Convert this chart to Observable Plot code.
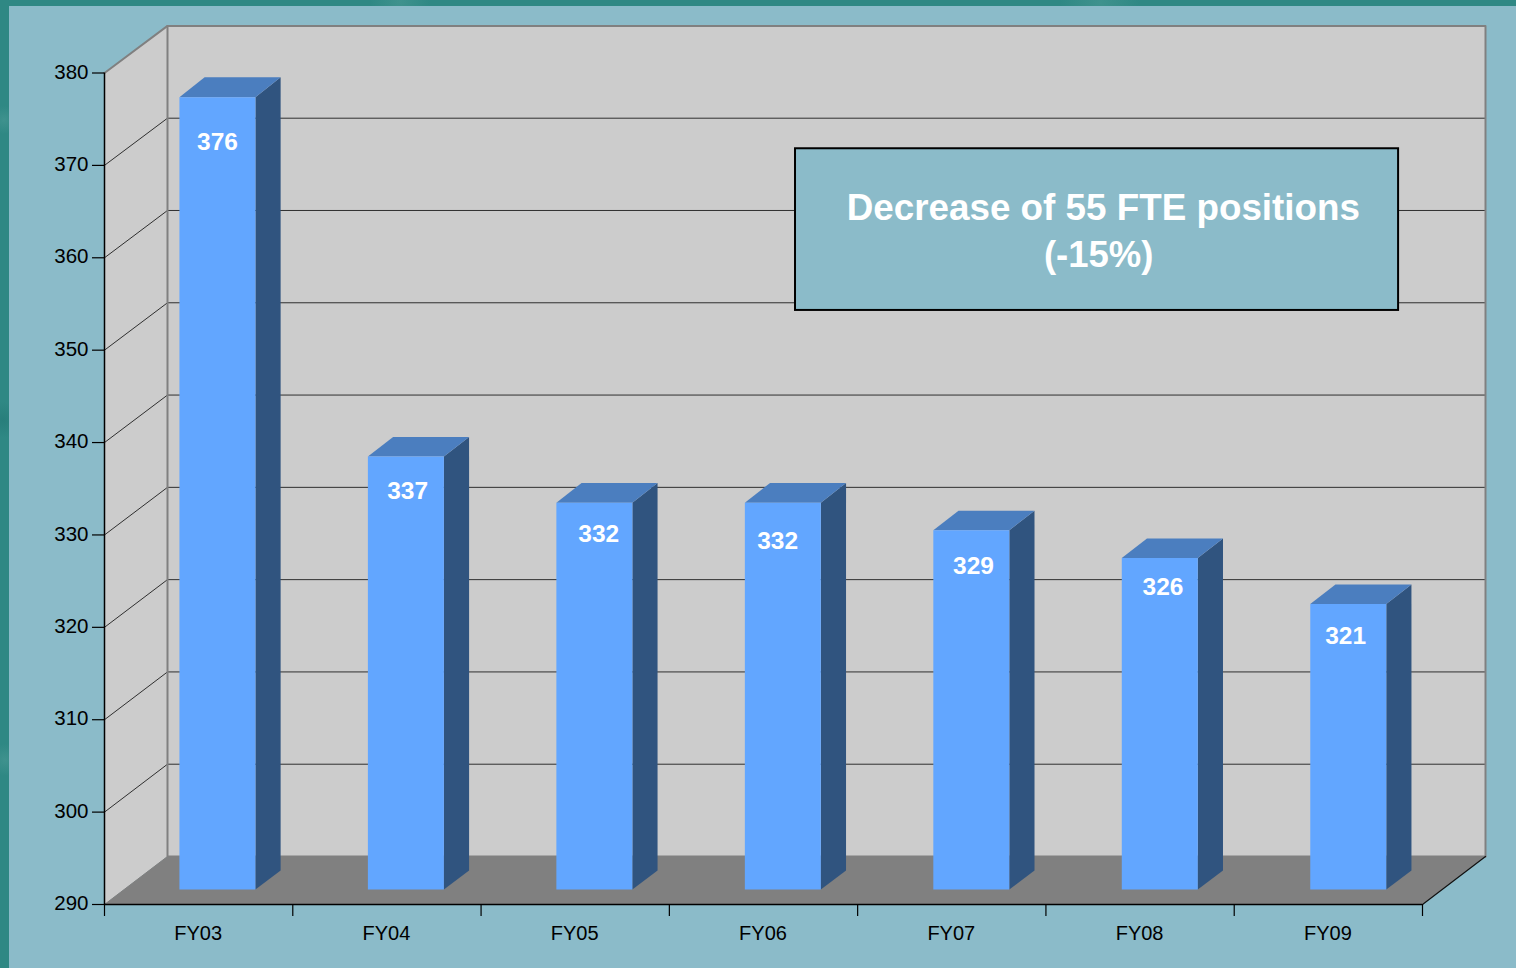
<!DOCTYPE html>
<html>
<head>
<meta charset="utf-8">
<script src="https://cdn.jsdelivr.net/npm/d3@7"></script>
<script src="https://cdn.jsdelivr.net/npm/@observablehq/plot@0.6"></script>
<style>
html,body{margin:0;padding:0;overflow:hidden;width:1516px;height:968px;}
body{position:relative;background-color:#2f8884;
background-image:radial-gradient(circle at 4px 120px,#3f928e 0,transparent 14px),radial-gradient(circle at 3px 420px,#287e7b 0,transparent 18px),radial-gradient(circle at 5px 760px,#3f928e 0,transparent 16px),radial-gradient(circle at 400px 2px,#3f928e 0,transparent 30px),radial-gradient(circle at 1100px 3px,#3f928e 0,transparent 40px);}
#panel{position:absolute;left:9px;top:6px;right:0;bottom:0;background:#8bbbc9;}
#chart{position:absolute;left:0;top:0;}
svg{display:block;}
</style>
</head>
<body>
<div id="panel"></div>
<div id="chart"></div>
<script>
// Data
const categories = ["FY03","FY04","FY05","FY06","FY07","FY08","FY09"];
const values = [376,337,332,332,329,326,321];
const yTicks = [290,300,310,320,330,340,350,360,370,380];
// Hand-placed data label anchors, in axis units
const labelX = [0.60,1.61,2.625,3.575,4.615,5.622,6.592];
const labelY = [372.5,334.7,330.1,329.3,326.6,324.4,319.0];
// Annotation
const noteLines = ["Decrease of 55 FTE positions","(-15%)"];
const noteBox = {x1:3.67,x2:6.873,y1:354.3,y2:371.8};

// 3D shear: a point at depth d (0 front, 1 back wall), expressed in axis units
const slot = 188.29, unit = 9.239;
const sx = (x,d)=> x + d*63/slot;
const sy = (v,d)=> v + (d*48 - (d>0 ? (0.032-0.022*d)*(v-290) : 0))/unit;
const P = (x,v,d)=>({x:sx(x,d),y:sy(v,d)});
const poly = (pts,fill)=>Plot.line(pts,{x:"x",y:"y",fill,stroke:"none",curve:"linear"});
const seg = (pts,stroke,strokeWidth)=>Plot.line(pts,{x:"x",y:"y",stroke,strokeWidth,curve:"linear"});

const d0=0.31, d1=0.71, barW=76/slot;
const C = {wall:"#cccccc",floor:"#808080",edge:"#808080",grid:"#2f2f2f",front:"#62a6ff",top:"#4b7ebf",side:"#30547f"};
const marks = [];

// walls and floor
marks.push(poly([P(0,290,0),P(0,380,0),P(0,380,1),P(0,290,1)],C.wall));
marks.push(poly([P(0,290,1),P(0,380,1),P(7,380,1),P(7,290,1)],C.wall));
marks.push(poly([P(0,290,0),P(7,290,0),P(7,290,1),P(0,290,1)],C.floor));

// gridlines
for(const v of yTicks.filter(t=>t>290&&t<380)){
  marks.push(seg([P(0,v,0),P(0,v,1),P(7,v,1)],C.grid,1));
}
// frame edges
marks.push(seg([P(0,380,0),P(0,380,1),P(7,380,1),P(7,290,1)],C.edge,2));
marks.push(seg([P(0,380,1),P(0,290,1),P(7,290,1)],C.edge,2));
marks.push(seg([P(0,290,0),P(0,290,1)],C.edge,1));
marks.push(seg([P(7,290,0),P(7,290,1)],"#111",1.2));

// bars
values.forEach((v,i)=>{
  const a=(i+0.5)*1.001-0.0045, l=a-barW/2, r=a+barW/2;
  marks.push(poly([P(r,290,d0),P(r,v,d0),P(r,v,d1),P(r,290,d1)],C.side));
  marks.push(poly([P(l,v,d0),P(r,v,d0),P(r,v,d1),P(l,v,d1)],C.top));
  marks.push(poly([P(l,290,d0),P(l,v,d0),P(r,v,d0),P(r,290,d0)],C.front));
});
marks.push(Plot.text(values,{x:(d,i)=>labelX[i],y:(d,i)=>labelY[i],text:d=>String(d),fill:"white",fontSize:24.5,fontWeight:"bold",fontFamily:"Liberation Sans"}));

// annotation box
marks.push(Plot.rect([noteBox],{x1:"x1",x2:"x2",y1:"y1",y2:"y2",fill:"#8bbbc9",stroke:"#000",strokeWidth:2}));
marks.push(Plot.text([noteLines[0]],{x:5.305,y:365.4,text:d=>d,fill:"white",fontSize:36.8,fontWeight:"bold",fontFamily:"Liberation Sans"}));
marks.push(Plot.text([noteLines[1]],{x:5.28,y:360.25,text:d=>d,fill:"white",fontSize:36.5,fontWeight:"bold",fontFamily:"Liberation Sans"}));

// axes
marks.push(Plot.ruleX([0],{y1:290,y2:380,stroke:"#000",strokeWidth:1.5}));
marks.push(Plot.ruleY([290],{x1:0,x2:7,stroke:"#000",strokeWidth:1.5}));
marks.push(Plot.axisY({ticks:yTicks,tickSize:12,tickFormat:()=>"",anchor:"left",stroke:"#000",strokeWidth:1.2}));
marks.push(Plot.axisY({ticks:yTicks,tickSize:0,tickPadding:16,tickFormat:d=>String(d),anchor:"left",fontSize:20.5,fill:"#000",dy:-1,fontFamily:"Liberation Sans"}));
marks.push(Plot.axisX({ticks:d3.range(0,8),tickSize:12,tickFormat:()=>"",anchor:"bottom",stroke:"#000",strokeWidth:1.2}));
marks.push(Plot.axisX({ticks:categories.map((c,i)=>i+0.5),tickSize:0,tickPadding:21,tickFormat:d=>categories[d-0.5],anchor:"bottom",fontSize:20,fill:"#000",fontFamily:"Liberation Sans",dx:-0.5}));

const chart = Plot.plot({
  width:1516,height:968,
  marginLeft:104,marginRight:94,marginTop:72.5,marginBottom:64,
  style:{background:"transparent",fontFamily:"Liberation Sans"},
  x:{type:"linear",domain:[0,7],label:null},
  y:{type:"linear",domain:[290,380],label:null},
  marks
});
document.getElementById("chart").appendChild(chart);
</script>
</body>
</html>
